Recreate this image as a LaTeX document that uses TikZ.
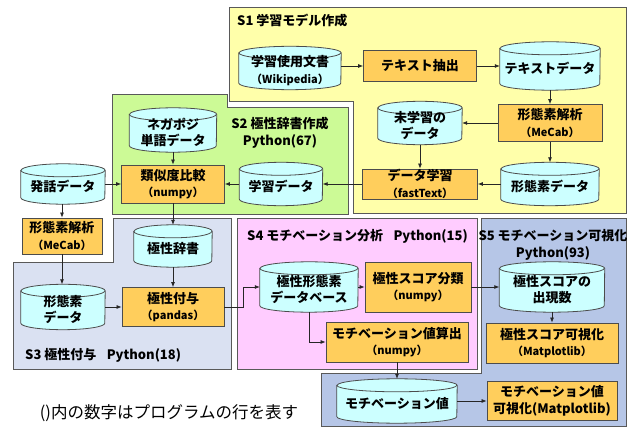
\documentclass[tikz,border=0pt]{standalone}
\usepackage{fontspec}
\setmainfont{Noto Sans CJK JP}
\usetikzlibrary{arrows.meta}
\definecolor{sonec}{RGB}{255,255,170}
\definecolor{stwoc}{RGB}{204,250,150}
\definecolor{sthreec}{RGB}{218,225,242}
\definecolor{sfourc}{RGB}{255,204,255}
\definecolor{sfivec}{RGB}{182,198,231}
\definecolor{cylc}{RGB}{204,255,255}
\definecolor{boxc}{RGB}{255,206,92}
\newcommand\mainf{\bfseries\fontsize{13}{16.5}\selectfont}
\newcommand\subf{\fontsize{11}{13}\selectfont}
\newcommand\cylR{6.5pt}
\tikzset{
 conn/.style={draw=black!85, line width=0.7pt, -{Latex[length=5pt,width=4pt]}},
 bx/.style={rectangle, draw=black!70, line width=0.8pt, fill=boxc, align=center, inner sep=0pt, font=\mainf},
 cylbox/.style={rectangle, inner sep=0pt, draw=none},
 cylshape/.style={fill=cylc, draw=black!70, line width=0.8pt},
 cyltext/.style={align=center, inner sep=0pt, font=\mainf},
 ttl/.style={inner sep=0pt, font=\mainf, align=center},
 regw/.style={draw=white, line width=4pt},
 reg/.style={draw=black!65, line width=1pt},
}
% name, x, y, w, h, text
\newcommand\cyl[6]{%
 \node[cylbox, minimum width=#4pt, minimum height=#5pt] (#1) at (#2,#3) {};
 \path[cylshape] ([yshift=-\cylR]#1.north west) -- ([yshift=\cylR]#1.south west)
   arc[start angle=180, end angle=360, x radius=#4pt/2, y radius=\cylR]
   -- ([yshift=-\cylR]#1.north east)
   arc[start angle=0, end angle=180, x radius=#4pt/2, y radius=\cylR] -- cycle;
 \draw[cylshape, fill=none] ([yshift=-\cylR]#1.north west)
   arc[start angle=180, end angle=360, x radius=#4pt/2, y radius=\cylR];
 \node[cyltext] (#1t) at ([yshift=-2.5pt]#1.center) {#6};
}
\begin{document}
\begin{tikzpicture}[x=1pt,y=-1pt]
\useasboundingbox (0,0) rectangle (633,430);
\fill[white] (0,0) rectangle (633,430);
% regions
\draw[regw] (229,8) -- (626,8) -- (626,214) -- (353,214) -- (353,102) -- (229,102) -- cycle;
\draw[reg, fill=sonec] (229,8) -- (626,8) -- (626,214) -- (353,214) -- (353,102) -- (229,102) -- cycle;
\draw[regw] (112,95) -- (227,95) -- (227,108) -- (348,108) -- (348,215) -- (112,215) -- cycle;
\draw[reg, fill=stwoc] (112,95) -- (227,95) -- (227,108) -- (348,108) -- (348,215) -- (112,215) -- cycle;
\draw[regw] (13,263) -- (113,263) -- (113,219) -- (231,219) -- (231,370) -- (13,370) -- cycle;
\draw[reg, fill=sthreec] (13,263) -- (113,263) -- (113,219) -- (231,219) -- (231,370) -- (13,370) -- cycle;
\draw[regw] (237,219) rectangle (477,370);
\draw[reg, fill=sfourc] (237,219) rectangle (477,370);
\draw[regw] (481,219) -- (626,219) -- (626,427) -- (321,427) -- (321,374) -- (481,374) -- cycle;
\draw[reg, fill=sfivec] (481,219) -- (626,219) -- (626,427) -- (321,427) -- (321,374) -- (481,374) -- cycle;
% titles
\node[ttl, anchor=west] (t1) at (237,21) {S1 学習モデル作成};
\node[ttl] (t2) at (280,133) {S2 極性辞書作成\\Python(67)};
\node[ttl, anchor=west] (t3) at (25,355) {S3 極性付与\hspace{0.8em}Python(18)};
\node[ttl, anchor=west] (t4) at (247,236) {S4 モチベーション分析\hspace{0.8em}Python(15)};
\node[ttl] (t5) at (553,245) {S5 モチベーション可視化\\Python(93)};
% S1
\cyl{wiki}{290}{68}{102}{43}{学習使用文書\\{\subf （Wikipedia）}}
\node[bx, minimum width=113pt, minimum height=31pt] (extract) at (420,66) {テキスト抽出};
\cyl{textdata}{550}{66}{100}{48}{テキストデータ}
\node[bx, minimum width=104pt, minimum height=37pt] (mecab1) at (550,123) {形態素解析\\{\subf （MeCab）}};
\cyl{mishu}{420}{123}{84}{43}{未学習の\\データ}
\cyl{keitai1}{550}{184}{98}{43}{形態素データ}
\node[bx, minimum width=115pt, minimum height=30pt] (learn) at (420,184) {データ学習\\{\subf （fastText）}};
% S2
\cyl{negapoji}{173}{130}{87}{44}{ネガポジ\\単語データ}
\node[bx, minimum width=103pt, minimum height=38pt] (ruiji) at (173,184) {類似度比較\\{\subf （numpy）}};
\cyl{gakushu}{281}{184}{83}{43}{学習データ}
% outside
\cyl{hatsuwa}{63}{184}{84}{40}{発話データ}
\node[bx, minimum width=80pt, minimum height=36pt] (mecab2) at (62,236) {形態素解析\\{\subf （MeCab）}};
% S3
\cyl{dict}{173}{246}{78}{42}{極性辞書}
\cyl{keitai2}{63}{307}{84}{45}{形態素\\データ}
\node[bx, minimum width=102pt, minimum height=39pt] (fuyo) at (173,307) {極性付与\\{\subf （pandas）}};
% S4
\cyl{db}{309}{287}{98}{50}{極性形態素\\データベース}
\node[bx, minimum width=106pt, minimum height=50pt] (score) at (418,287) {極性スコア分類\\{\subf （numpy）}};
\node[bx, minimum width=142pt, minimum height=40pt] (calc) at (397,342) {モチベーション値算出\\{\subf （numpy）}};
% S5
\cyl{freq}{552}{287}{105}{50}{極性スコアの\\出現数}
\node[bx, minimum width=132pt, minimum height=40pt] (scorevis) at (552,343) {極性スコア可視化\\{\subf （Matplotlib）}};
\cyl{motival}{397}{401}{120}{44}{モチベーション値}
\node[bx, minimum width=130pt, minimum height=39pt] (motivis) at (552,401) {モチベーション値\\可視化(Matplotlib)};
% note
\node[inner sep=0pt, font=\fontsize{16.5}{18}\selectfont] (note) at (169,413) {()内の数字はプログラムの行を表す};
% arrows
\draw[conn] (wiki.east |- extract.west) -- (extract.west);
\draw[conn] (extract.east) -- (textdata.west);
\draw[conn] (textdata.south) -- (mecab1.north);
\draw[conn] (mecab1.west) -- (mishu.east);
\draw[conn] (mecab1.south) -- (keitai1.north);
\draw[conn] (keitai1.west) -- (learn.east);
\draw[conn] (mishu.south) -- (learn.north);
\draw[conn] (learn.west) -- (gakushu.east);
\draw[conn] (gakushu.west) -- (ruiji.east);
\draw[conn] (negapoji.south) -- (ruiji.north);
\draw[conn] (hatsuwa.east) -- (ruiji.west);
\draw[conn] (ruiji.south) -- (dict.north);
\draw[conn] (hatsuwa.south -| mecab2.north) -- (mecab2.north);
\draw[conn] (mecab2.south) -- (mecab2.south |- keitai2.north);
\draw[conn] (dict.south) -- (fuyo.north);
\draw[conn] (keitai2.east) -- (fuyo.west);
\draw[conn] (fuyo.east) -- ++(19,0) |- (db.west);
\draw[conn] (db.east) -- (score.west);
\draw[conn] (db.south) |- (calc.west);
\draw[conn] (calc.south) -- (motival.north);
\draw[conn] (score.east) -- (freq.west);
\draw[conn] (freq.south) -- (scorevis.north);
\draw[conn] (motival.east) -- (motivis.west);
\end{tikzpicture}
\end{document}
